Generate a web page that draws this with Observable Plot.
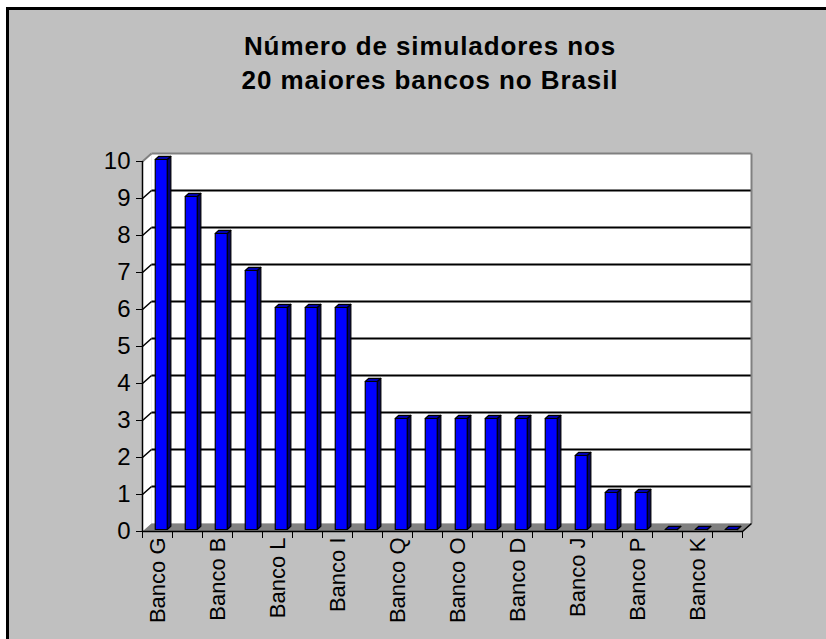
<!DOCTYPE html>
<html>
<head>
<meta charset="utf-8">
<script src="https://cdn.jsdelivr.net/npm/d3@7"></script>
<script src="https://cdn.jsdelivr.net/npm/@observablehq/plot@0.6"></script>
<style>
  html { margin: 0; padding: 0; background: #c0c0c0; overflow: hidden; }
  body { margin: 0; padding: 0; background: #c0c0c0; width: 826px; height: 639px; position: relative; overflow: hidden; }
  #white-top { position: absolute; left: 0; top: 0; width: 826px; height: 7px; background: #fff; }
  #white-left { position: absolute; left: 0; top: 0; width: 6px; height: 639px; background: #fff; }
  #line-top { position: absolute; left: 6px; top: 7px; width: 820px; height: 3px; background: #000; }
  #line-left { position: absolute; left: 6px; top: 7px; width: 3px; height: 632px; background: #000; }
  #title { position: absolute; left: 0; top: 29px; width: 860px; text-align: center;
           font-family: "Liberation Sans", Arial, sans-serif; font-weight: bold; font-size: 26px;
           letter-spacing: 0.9px; line-height: 34px; color: #000; }
  #chart { position: absolute; left: 0; top: 130px; }
</style>
</head>
<body>
<div id="white-top"></div><div id="white-left"></div>
<div id="line-top"></div><div id="line-left"></div>
<div id="title">Número de simuladores nos<br>20 maiores bancos no Brasil</div>
<div id="chart"></div>
<script>
// Categories in plotted order. Only every other name is printed in the reference;
// the unprinted ones (odd positions) are the remaining letters A–T, order unknown.
const categories = ["Banco G","Banco A","Banco B","Banco C","Banco L","Banco E","Banco I","Banco F",
                    "Banco Q","Banco H","Banco O","Banco M","Banco D","Banco N","Banco J","Banco R",
                    "Banco P","Banco S","Banco K","Banco T"];
const values = [10, 9, 8, 7, 6, 6, 6, 4, 3, 3, 3, 3, 3, 3, 2, 1, 1, 0, 0, 0];
const yTicks = [0, 1, 2, 3, 4, 5, 6, 7, 8, 9, 10];
const labelEvery = 2;

const n = categories.length;
const yMax = yTicks[yTicks.length - 1];
// pseudo-3D depth offsets expressed in data units
const DX = 0.3, DY = 0.216;
const P = (x, y, d) => ({x: x + DX * d, y: y + DY * d});
const poly = (id, pts) => pts.map(p => ({id, ...p}));

const walls = [
  ...poly("back", [P(0,0,1), P(n,0,1), P(n,yMax,1), P(0,yMax,1)]),
  ...poly("side", [P(0,0,0), P(0,0,1), P(0,yMax,1), P(0,yMax,0)])
];
const floor = poly("floor", [P(0,0,0), P(n,0,0), P(n,0,1), P(0,0,1)]);

const grid = yTicks.filter(v => v > 0 && v < yMax);
const seg = ([a, b]) => ({x1: a.x, y1: a.y, x2: b.x, y2: b.y});
const gridBack = grid.map(v => seg([P(0,v,1), P(n,v,1)]));
const gridSide = grid.map(v => seg([P(0,v,0), P(0,v,1)]));
const edges = [
  [P(0,yMax,1), P(n,yMax,1)],
  [P(n,0,1), P(n,yMax,1)],
  [P(0,yMax,0), P(0,yMax,1)]
].map(seg);
const rightFloorEdge = [[P(n,0,0), P(n,0,1)]].map(seg);

const hw = 0.2, off = 0.55, d0 = 0.25, d1 = 0.65;
const fronts = [], sides = [], tops = [];
values.forEach((v, i) => {
  const l = i + off - hw, r = i + off + hw;
  fronts.push(...poly("f"+i, [P(l,0,d0), P(r,0,d0), P(r,v,d0), P(l,v,d0)]));
  sides.push(...poly("s"+i, [P(r,0,d0), P(r,0,d1), P(r,v,d1), P(r,v,d0)]));
  tops.push(...poly("t"+i, [P(l,v,d0), P(r,v,d0), P(r,v,d1), P(l,v,d1)]));
});

const labels = categories.map((c, i) => ({c, x: i + 0.5})).filter((d, i) => i % labelEvery === 0);
const font = '"Liberation Sans", Arial, sans-serif';

const chart = Plot.plot({
  width: 826, height: 509,
  marginLeft: 142, marginRight: 84, marginTop: 31, marginBottom: 108,
  x: {domain: [0, n]},
  y: {domain: [0, yMax]},
  style: {background: "transparent", fontFamily: font, color: "#000", overflow: "visible"},
  marks: [
    Plot.line(walls, {x: "x", y: "y", z: "id", curve: "linear-closed", fill: "#fff", stroke: "none"}),
    Plot.line(floor, {x: "x", y: "y", z: "id", curve: "linear-closed", fill: "#808080", stroke: "none"}),
    Plot.link(gridBack, {x1: "x1", y1: "y1", x2: "x2", y2: "y2", stroke: "#000", strokeWidth: 1.8}),
    Plot.link(gridSide, {x1: "x1", y1: "y1", x2: "x2", y2: "y2", stroke: "#000", strokeWidth: 1.5}),
    Plot.link(edges, {x1: "x1", y1: "y1", x2: "x2", y2: "y2", stroke: "#808080", strokeWidth: 2}),
    Plot.line(sides, {x: "x", y: "y", z: "id", curve: "linear-closed", fill: "#000070", stroke: "#000", strokeWidth: 1.2}),
    Plot.line(fronts, {x: "x", y: "y", z: "id", curve: "linear-closed", fill: "#0000ff", stroke: "#000", strokeWidth: 1.2}),
    Plot.line(tops, {x: "x", y: "y", z: "id", curve: "linear-closed", fill: "#0000b0", stroke: "#000", strokeWidth: 1.2}),
    Plot.ruleX([0], {y1: 0, y2: yMax, stroke: "#000", strokeWidth: 1.5}),
    Plot.ruleY([0], {x1: 0, x2: n, stroke: "#000", strokeWidth: 1.5}),
    Plot.link(rightFloorEdge, {x1: "x1", y1: "y1", x2: "x2", y2: "y2", stroke: "#000", strokeWidth: 1.5}),
    Plot.axisY({ticks: yTicks, tickSize: 6, tickPadding: 6, fontSize: 24, label: null, stroke: "#000"}),
    Plot.axisX({ticks: d3.range(0, n + 1), tickSize: 7, tickFormat: () => "", label: null, stroke: "#000"}),
    Plot.text(labels, {x: "x", y: 0, text: "c", rotate: -90, textAnchor: "end", lineAnchor: "middle",
                       dy: 6, fontSize: 22, fill: "#000"})
  ]
});
document.getElementById("chart").appendChild(chart);
</script>
</body>
</html>
